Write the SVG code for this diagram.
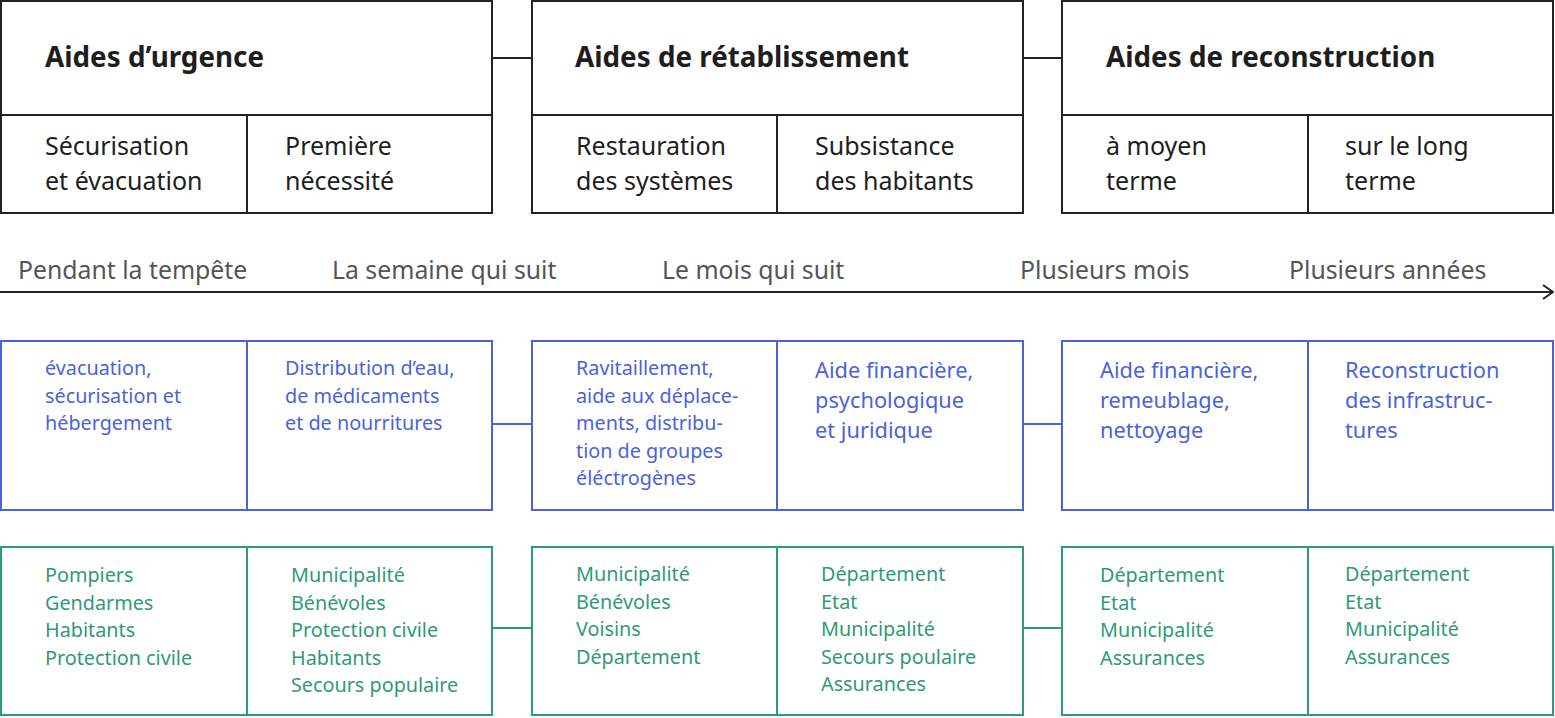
<svg xmlns="http://www.w3.org/2000/svg" width="1555" height="718" viewBox="0 0 1555 718">
<defs>
<style>
text{font-family:"Noto Sans","Open Sans",sans-serif}
.k{fill:none;stroke:#222;stroke-width:2}
.b{fill:none;stroke:#4a63dc;stroke-width:2}
.g{fill:none;stroke:#2f9a78;stroke-width:2}
.h{font-size:27.8px;font-weight:bold;fill:#1e1e1e}
.s{font-size:25px;fill:#1e1e1e}
.t{font-size:24.8px;fill:#555}
.bt{font-size:19.8px;fill:#4a63dc}
.bl{font-size:21.8px;fill:#4a63dc}
.gt{font-size:19.8px;fill:#2f9a78}
</style>
<marker id="arr" viewBox="0 0 12 16" markerWidth="12" markerHeight="16" refX="11" refY="8" orient="auto" markerUnits="userSpaceOnUse">
<path d="M1,1 L11,8 L1,15" fill="none" stroke="#222" stroke-width="2"/>
</marker>
</defs>

<g id="connectors">
<line class="k" x1="492" y1="58" x2="532" y2="58"/>
<line class="k" x1="1023" y1="58" x2="1062" y2="58"/>
<line class="b" x1="492" y1="424" x2="532" y2="424"/>
<line class="b" x1="1023" y1="424" x2="1062" y2="424"/>
<line class="g" x1="492" y1="628" x2="532" y2="628"/>
<line class="g" x1="1023" y1="628" x2="1062" y2="628"/>
</g>

<g id="urgence">
<rect class="k" x="1" y="1" width="491" height="212"/>
<line class="k" x1="1" y1="115" x2="492" y2="115"/>
<line class="k" x1="247" y1="115" x2="247" y2="213"/>
<text class="h" x="45" y="67">Aides d’urgence</text>
<text class="s" x="45" y="155">Sécurisation</text>
<text class="s" x="45" y="190">et évacuation</text>
<text class="s" x="285" y="155">Première</text>
<text class="s" x="285" y="190">nécessité</text>
</g>

<g id="retablissement">
<rect class="k" x="532" y="1" width="491" height="212"/>
<line class="k" x1="532" y1="115" x2="1023" y2="115"/>
<line class="k" x1="777" y1="115" x2="777" y2="213"/>
<text class="h" x="575" y="67">Aides de rétablissement</text>
<text class="s" x="576" y="155">Restauration</text>
<text class="s" x="576" y="190">des systèmes</text>
<text class="s" x="815" y="155">Subsistance</text>
<text class="s" x="815" y="190">des habitants</text>
</g>

<g id="reconstruction">
<rect class="k" x="1062" y="1" width="491" height="212"/>
<line class="k" x1="1062" y1="115" x2="1553" y2="115"/>
<line class="k" x1="1308" y1="115" x2="1308" y2="213"/>
<text class="h" x="1106" y="67">Aides de reconstruction</text>
<text class="s" x="1106" y="155">à moyen</text>
<text class="s" x="1106" y="190">terme</text>
<text class="s" x="1345" y="155">sur le long</text>
<text class="s" x="1345" y="190">terme</text>
</g>

<g id="timeline">
<line x1="0" y1="292" x2="1553" y2="292" stroke="#222" stroke-width="2" marker-end="url(#arr)"/>
<text class="t" x="18" y="279">Pendant la tempête</text>
<text class="t" x="332" y="279">La semaine qui suit</text>
<text class="t" x="662" y="279">Le mois qui suit</text>
<text class="t" x="1020" y="279">Plusieurs mois</text>
<text class="t" x="1289" y="279">Plusieurs années</text>
</g>

<g id="actions-urgence">
<rect class="b" x="1" y="341" width="491" height="169"/>
<line class="b" x1="247" y1="341" x2="247" y2="510"/>
<text class="bt" x="45" y="375">évacuation,</text>
<text class="bt" x="45" y="402.5">sécurisation et</text>
<text class="bt" x="45" y="430">hébergement</text>
<text class="bt" x="285" y="375">Distribution d’eau,</text>
<text class="bt" x="285" y="402.5">de médicaments</text>
<text class="bt" x="285" y="430">et de nourritures</text>
</g>

<g id="actions-retablissement">
<rect class="b" x="532" y="341" width="491" height="169"/>
<line class="b" x1="777" y1="341" x2="777" y2="510"/>
<text class="bt" x="576" y="375">Ravitaillement,</text>
<text class="bt" x="576" y="402.5">aide aux déplace-</text>
<text class="bt" x="576" y="430">ments, distribu-</text>
<text class="bt" x="576" y="457.5">tion de groupes</text>
<text class="bt" x="576" y="485">éléctrogènes</text>
<text class="bl" x="815" y="378">Aide financière,</text>
<text class="bl" x="815" y="408">psychologique</text>
<text class="bl" x="815" y="438">et juridique</text>
</g>

<g id="actions-reconstruction">
<rect class="b" x="1062" y="341" width="491" height="169"/>
<line class="b" x1="1308" y1="341" x2="1308" y2="510"/>
<text class="bl" x="1100" y="378">Aide financière,</text>
<text class="bl" x="1100" y="408">remeublage,</text>
<text class="bl" x="1100" y="438">nettoyage</text>
<text class="bl" x="1345" y="378">Reconstruction</text>
<text class="bl" x="1345" y="408">des infrastruc-</text>
<text class="bl" x="1345" y="438">tures</text>
</g>

<g id="acteurs-urgence">
<rect class="g" x="1" y="547" width="491" height="168"/>
<line class="g" x1="247" y1="547" x2="247" y2="715"/>
<text class="gt" x="45" y="582">Pompiers</text>
<text class="gt" x="45" y="609.5">Gendarmes</text>
<text class="gt" x="45" y="637">Habitants</text>
<text class="gt" x="45" y="664.5">Protection civile</text>
<text class="gt" x="291" y="582">Municipalité</text>
<text class="gt" x="291" y="609.5">Bénévoles</text>
<text class="gt" x="291" y="637">Protection civile</text>
<text class="gt" x="291" y="664.5">Habitants</text>
<text class="gt" x="291" y="692">Secours populaire</text>
</g>

<g id="acteurs-retablissement">
<rect class="g" x="532" y="547" width="491" height="168"/>
<line class="g" x1="777" y1="547" x2="777" y2="715"/>
<text class="gt" x="576" y="581">Municipalité</text>
<text class="gt" x="576" y="608.5">Bénévoles</text>
<text class="gt" x="576" y="636">Voisins</text>
<text class="gt" x="576" y="663.5">Département</text>
<text class="gt" x="821" y="581">Département</text>
<text class="gt" x="821" y="608.5">Etat</text>
<text class="gt" x="821" y="636">Municipalité</text>
<text class="gt" x="821" y="663.5">Secours poulaire</text>
<text class="gt" x="821" y="691">Assurances</text>
</g>

<g id="acteurs-reconstruction">
<rect class="g" x="1062" y="547" width="491" height="168"/>
<line class="g" x1="1308" y1="547" x2="1308" y2="715"/>
<text class="gt" x="1100" y="582">Département</text>
<text class="gt" x="1100" y="609.5">Etat</text>
<text class="gt" x="1100" y="637">Municipalité</text>
<text class="gt" x="1100" y="664.5">Assurances</text>
<text class="gt" x="1345" y="581">Département</text>
<text class="gt" x="1345" y="608.5">Etat</text>
<text class="gt" x="1345" y="636">Municipalité</text>
<text class="gt" x="1345" y="663.5">Assurances</text>
</g>
</svg>
